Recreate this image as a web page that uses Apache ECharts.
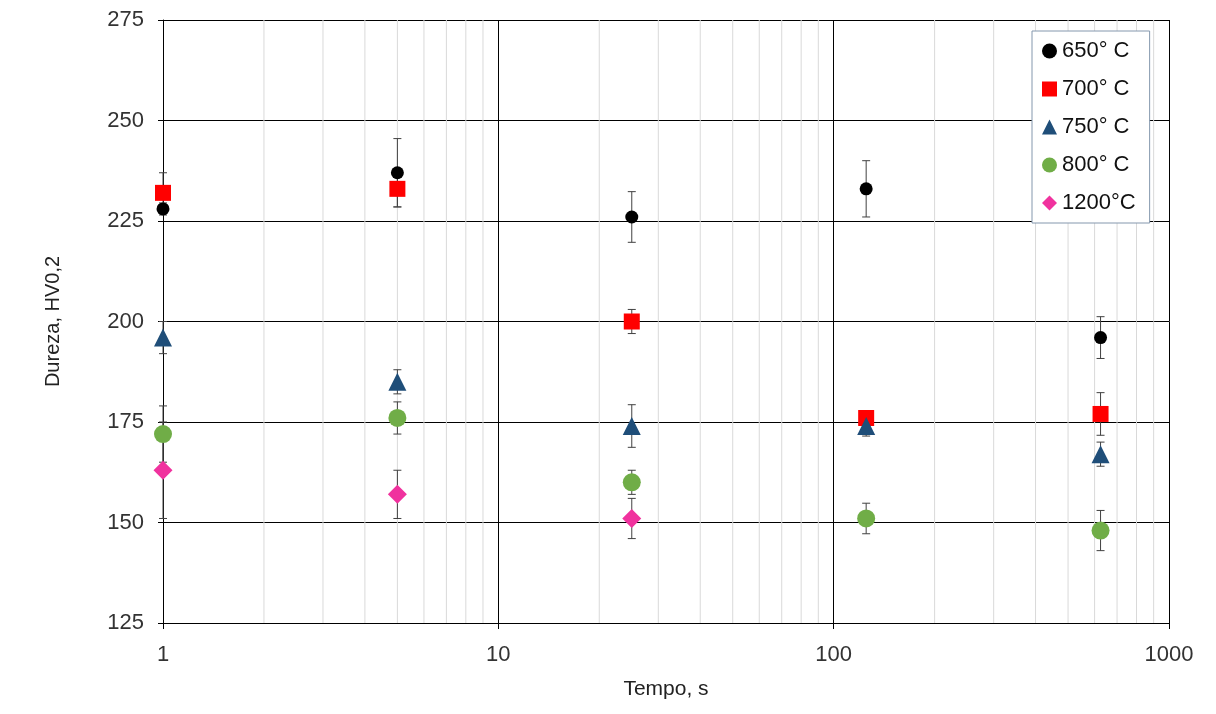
<!DOCTYPE html>
<html>
<head>
<meta charset="utf-8">
<script src="https://cdn.jsdelivr.net/npm/echarts@6/dist/echarts.min.js"></script>
<style>
  html, body { margin: 0; padding: 0; background: #fff; }
  #chartBox { width: 1216px; height: 714px; }
</style>
</head>
<body>
<div id="chartBox"></div>
<script>
// tempo (s)
var tempos = [1, 5, 25, 125, 625];
// dureza HV0,2 and error bar half-widths
var h650 = [228, 237, 226, 233, 196];
var e650 = [1.5, 8.5, 6.3, 7, 5.2];
var h700 = [232, 233, 200, 176, 177];
var e700 = [5, 4.5, 3, 1.5, 5.3];
var h750 = [196, 185, 174, 174, 167];
var e750 = [4, 3, 5.3, 2.5, 3];
var h800 = [172, 176, 160, 151, 148];
var e800 = [7, 4, 3, 3.8, 5];
var h1200 = [163, 157, 151];
var e1200 = [12, 6, 5];
var minorTicks = [2, 3, 4, 5, 6, 7, 8, 9, 20, 30, 40, 50, 60, 70, 80, 90, 200, 300, 400, 500, 600, 700, 800, 900];

var fontName = '"Liberation Sans", Arial, sans-serif';
var yMin = 125, yMax = 275;

function pts(vals) {
    var out = [];
    for (var i = 0; i < vals.length; i++) out.push([tempos[i], vals[i]]);
    return out;
}
function errs(vals, e) {
    var out = [];
    for (var i = 0; i < vals.length; i++) out.push([tempos[i], vals[i] - e[i], vals[i] + e[i]]);
    return out;
}
function renderErr(params, api) {
    var lo = api.coord([api.value(0), api.value(1)]);
    var hi = api.coord([api.value(0), api.value(2)]);
    var w = 4;
    var st = { stroke: '#404040', lineWidth: 1 };
    return {
        type: 'group',
        children: [
            { type: 'line', shape: { x1: lo[0], y1: lo[1], x2: hi[0], y2: hi[1] }, style: st },
            { type: 'line', shape: { x1: lo[0] - w, y1: lo[1], x2: lo[0] + w, y2: lo[1] }, style: st },
            { type: 'line', shape: { x1: hi[0] - w, y1: hi[1], x2: hi[0] + w, y2: hi[1] }, style: st }
        ]
    };
}
function renderMinor(params, api) {
    var a = api.coord([api.value(0), yMin]);
    var b = api.coord([api.value(0), yMax]);
    return { type: 'line', shape: { x1: a[0], y1: a[1], x2: b[0], y2: b[1] }, style: { stroke: '#d9d9d9', lineWidth: 1 } };
}
function errSeries(vals, e) {
    return { type: 'custom', renderItem: renderErr, data: errs(vals, e), z: 3, silent: true };
}

var chart = echarts.init(document.getElementById('chartBox'));
var option = {
    animation: false,
    textStyle: { fontFamily: fontName },
    grid: { left: 163, right: 47, top: 20, bottom: 91 },
    legend: {
        orient: 'vertical',
        left: 1032,
        top: 31,
        padding: [9, 14, 9, 10],
        itemGap: 16,
        itemWidth: 15,
        itemHeight: 15,
        backgroundColor: '#fff',
        borderColor: '#8497AD',
        borderWidth: 1,
        itemStyle: { borderWidth: 0 },
        textStyle: { fontSize: 22, color: '#111', fontFamily: fontName },
        data: [
            { name: '650° C', icon: 'circle' },
            { name: '700° C', icon: 'rect' },
            { name: '750° C', icon: 'triangle' },
            { name: '800° C', icon: 'circle' },
            { name: '1200°C', icon: 'diamond' }
        ]
    },
    xAxis: {
        type: 'log',
        logBase: 10,
        min: 1,
        max: 1000,
        name: 'Tempo, s',
        nameLocation: 'middle',
        nameGap: 56,
        nameTextStyle: { fontSize: 21, color: '#222' },
        axisLine: { lineStyle: { color: '#000', width: 1 } },
        axisTick: { show: true, length: 6, lineStyle: { color: '#000' } },
        axisLabel: { fontSize: 22, color: '#333', margin: 21, formatter: function (v) { return String(v); } },
        splitLine: { show: true, lineStyle: { color: '#000', width: 1 } }
    },
    yAxis: {
        type: 'value',
        min: yMin,
        max: yMax,
        interval: 25,
        name: 'Dureza, HV0,2',
        nameLocation: 'middle',
        nameGap: 100,
        nameTextStyle: { fontSize: 20, color: '#222' },
        axisLine: { show: true, lineStyle: { color: '#000', width: 1 } },
        axisTick: { show: true, length: 5, lineStyle: { color: '#000' } },
        axisLabel: { fontSize: 22, color: '#333', margin: 19 },
        splitLine: { show: true, lineStyle: { color: '#000', width: 1 } }
    },
    series: [
        { type: 'custom', renderItem: renderMinor, data: minorTicks.map(function (t) { return [t]; }), z: 1, silent: true },
        errSeries(h650, e650),
        errSeries(h700, e700),
        errSeries(h750, e750),
        errSeries(h800, e800),
        errSeries(h1200, e1200),
        { name: '650° C', type: 'scatter', symbol: 'circle', symbolSize: 13, itemStyle: { color: '#000', opacity: 1 }, data: pts(h650), z: 5 },
        { name: '700° C', type: 'scatter', symbol: 'rect', symbolSize: 16, itemStyle: { color: '#FF0000', opacity: 1 }, data: pts(h700), z: 5 },
        { name: '750° C', type: 'scatter', symbol: 'triangle', symbolSize: 18, itemStyle: { color: '#1F4E79', opacity: 1 }, data: pts(h750), z: 5 },
        { name: '800° C', type: 'scatter', symbol: 'circle', symbolSize: 18, itemStyle: { color: '#70AD47', opacity: 1 }, data: pts(h800), z: 5 },
        { name: '1200°C', type: 'scatter', symbol: 'diamond', symbolSize: 19, itemStyle: { color: '#F0329E', opacity: 1 }, data: pts(h1200), z: 5 }
    ]
};
chart.setOption(option);
</script>
</body>
</html>
